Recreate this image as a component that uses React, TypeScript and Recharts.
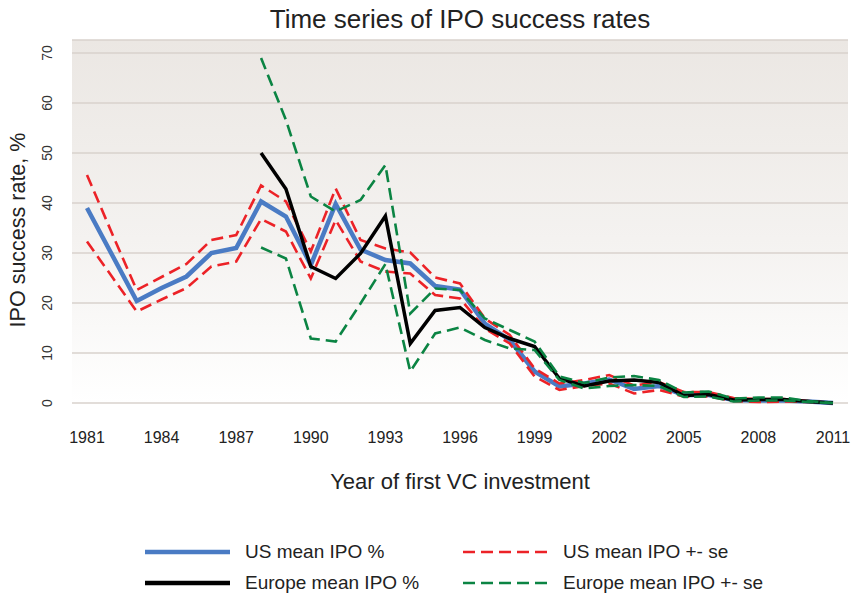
import React from 'react';
import { LineChart, Line, XAxis, YAxis, CartesianGrid, Legend, Label } from 'recharts';

const FONT = '"Liberation Sans", Arial, Helvetica, sans-serif';

const years = [
  '1981', '1982', '1983', '1984', '1985', '1986', '1987', '1988', '1989', '1990',
  '1991', '1992', '1993', '1994', '1995', '1996', '1997', '1998', '1999', '2000',
  '2001', '2002', '2003', '2004', '2005', '2006', '2007', '2008', '2009', '2010', '2011'
];

const usMean = [
  39, 29.7, 20.4, 23, 25.3, 30, 31, 40.3, 37.3, 27.6,
  39.8, 30.7, 28.6, 27.9, 23.4, 22.7, 15.9, 12.6, 6.3, 3.3,
  3.9, 4.7, 2.8, 3.4, 1.6, 1.6, 0.6, 0.5, 0.5, 0.3, 0
];
const usUpper = [
  45.6, 34, 22.6, 25.2, 27.8, 32.6, 33.6, 43.5, 40.3, 30.3,
  42.9, 32.6, 30.9, 30.1, 25.1, 23.9, 16.9, 13.6, 6.9, 3.9,
  4.6, 5.6, 3.5, 4.2, 2.2, 2.2, 1.0, 0.8, 0.8, 0.4, 0
];
const usLower = [
  32.3, 25.3, 18.3, 20.7, 23, 27.3, 28.3, 36.8, 34.3, 24.9,
  36.6, 28.3, 26.3, 25.9, 21.6, 20.9, 14.9, 11.9, 5.3, 2.6,
  3.4, 3.9, 1.9, 2.6, 1.3, 1.3, 0.4, 0.2, 0.3, 0.2, 0
];

// Europe series start in 1988
const euStart = 7;
const euMean = [
  50, 42.8, 27.3, 24.9, 29.9, 37.4, 11.9, 18.5, 19.1, 15.1, 12.9, 11.3,
  4.9, 3.4, 4.4, 4.6, 4.1, 1.5, 1.7, 0.6, 0.7, 0.7, 0.3, 0
];
const euUpper = [
  69, 56.6, 41.3, 38.3, 40.6, 47.6, 17.9, 22.9, 22.6, 16.9, 14.6, 12.3,
  5.3, 4.0, 5.1, 5.4, 4.6, 2.1, 2.3, 0.9, 1.1, 1.1, 0.4, 0
];
const euLower = [
  31.1, 28.9, 12.9, 12.3, 19.9, 27.8, 6.3, 13.9, 15.1, 12.6, 10.9, 10.6,
  4.6, 2.9, 3.4, 3.6, 3.4, 1.2, 1.3, 0.3, 0.5, 0.5, 0.2, 0
];

const yTicks = [0, 10, 20, 30, 40, 50, 60, 70];

const data = years.map((year, i) => ({
  year,
  usMean: usMean[i],
  usUpper: usUpper[i],
  usLower: usLower[i],
  euMean: i >= euStart ? euMean[i - euStart] : null,
  euUpper: i >= euStart ? euUpper[i - euStart] : null,
  euLower: i >= euStart ? euLower[i - euStart] : null
}));

const BLUE = '#4a7bc4';
const RED = '#ec2227';
const GREEN = '#0b8443';
const BLACK = '#000000';
const DASH = '12 6';

const legendItems = [
  { label: 'US mean IPO %', color: BLUE, dash: undefined, width: 4.5 },
  { label: 'US mean IPO +- se', color: RED, dash: DASH, width: 2.6 },
  { label: 'Europe mean IPO %', color: BLACK, dash: undefined, width: 4.5 },
  { label: 'Europe mean IPO +- se', color: GREEN, dash: DASH, width: 2.6 }
];

const YTick = (props: any) => {
  const { y, payload } = props;
  const x = 47;
  return (
    <text
      x={x}
      y={y}
      transform={`rotate(-90 ${x} ${y})`}
      textAnchor="middle"
      dominantBaseline="central"
      fontSize={14}
      fill="#333"
      fontFamily={FONT}
    >
      {payload.value}
    </text>
  );
};

const XTick = (props: any) => {
  const { x, payload } = props;
  return (
    <text x={x} y={437} textAnchor="middle" dominantBaseline="central" fontSize={16} fill="#222" fontFamily={FONT}>
      {payload.value}
    </text>
  );
};

const ChartLegend = () => (
  <div style={{ position: 'relative', width: 851, height: 70, fontFamily: FONT }}>
    {legendItems.map((item, i) => {
      const left = i % 2 === 0 ? 145 : 463;
      const top = i < 2 ? 23 : 54;
      return (
        <div key={item.label} style={{ position: 'absolute', left, top: top - 12, height: 24, display: 'flex', alignItems: 'center' }}>
          <svg width={85} height={24} style={{ display: 'block' }}>
            <line x1={0} y1={12} x2={85} y2={12} stroke={item.color} strokeWidth={item.width} strokeDasharray={item.dash} />
          </svg>
          <span style={{ marginLeft: 15, fontSize: 19, color: '#222', whiteSpace: 'nowrap' }}>{item.label}</span>
        </div>
      );
    })}
  </div>
);

export default function App() {
  return (
    <div style={{ position: 'absolute', left: 0, top: 0, width: 851, height: 599, background: '#fff' }}>
      <LineChart width={851} height={599} data={data} margin={{ top: 40, right: 3, bottom: 0, left: 0 }}>
        <defs>
          <linearGradient id="plotBg" x1="0" y1="0" x2="0" y2="1">
            <stop offset="0%" stopColor="#ebe7e3" />
            <stop offset="55%" stopColor="#f4f2f0" />
            <stop offset="100%" stopColor="#ffffff" />
          </linearGradient>
        </defs>
        <text x={460} y={19} textAnchor="middle" dominantBaseline="central" fontSize={26} fill="#222" fontFamily={FONT}>
          Time series of IPO success rates
        </text>
        <CartesianGrid vertical={false} stroke="#d8d2cd" strokeWidth={1.5} fill="url(#plotBg)" />
        <XAxis
          dataKey="year"
          type="category"
          interval={2}
          padding={{ left: 15, right: 15 }}
          axisLine={false}
          tickLine={false}
          height={126}
          tick={<XTick />}
        >
          <Label
            value="Year of first VC investment"
            position="insideBottom"
            offset={40}
            style={{ fontSize: 22, fill: '#222', fontFamily: FONT }}
          />
        </XAxis>
        <YAxis
          type="number"
          domain={[0, 72.6]}
          ticks={yTicks}
          axisLine={false}
          tickLine={false}
          width={72}
          tick={<YTick />}
        >
          <Label
            content={() => (
              <text
                x={18}
                y={230}
                transform="rotate(-90 18 230)"
                textAnchor="middle"
                dominantBaseline="central"
                fontSize={21.5}
                fill="#222"
                fontFamily={FONT}
              >
                IPO success rate, %
              </text>
            )}
          />
        </YAxis>
        <Legend verticalAlign="bottom" height={70} content={() => <ChartLegend />} />
        <Line dataKey="usMean" stroke={BLUE} strokeWidth={4.5} dot={false} isAnimationActive={false} />
        <Line dataKey="usUpper" stroke={RED} strokeWidth={2.6} strokeDasharray={DASH} dot={false} isAnimationActive={false} />
        <Line dataKey="usLower" stroke={RED} strokeWidth={2.6} strokeDasharray={DASH} dot={false} isAnimationActive={false} />
        <Line dataKey="euMean" stroke={BLACK} strokeWidth={3.5} dot={false} isAnimationActive={false} />
        <Line dataKey="euUpper" stroke={GREEN} strokeWidth={2.6} strokeDasharray={DASH} dot={false} isAnimationActive={false} />
        <Line dataKey="euLower" stroke={GREEN} strokeWidth={2.6} strokeDasharray={DASH} dot={false} isAnimationActive={false} />
      </LineChart>
    </div>
  );
}
